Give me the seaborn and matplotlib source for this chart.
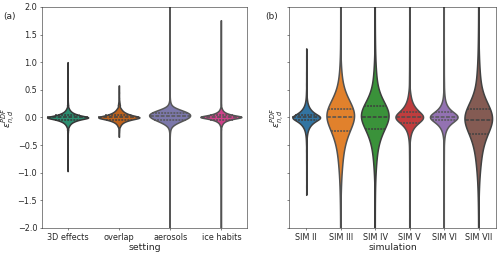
import numpy as np
import pandas as pd
import matplotlib
matplotlib.use("Agg")
import matplotlib.pyplot as plt
import seaborn as sns

# ---------------- data ----------------
settings = ["3D effects", "overlap", "aerosols", "ice habits"]
simulations = ["SIM II", "SIM III", "SIM IV", "SIM V", "SIM VI", "SIM VII"]

# value levels (epsilon) and how many cases fall on each level
levels_a = [-3.0, -2.4, -1.8, -1.4, -0.97, -0.7, -0.5, -0.35, -0.3, -0.26, -0.22,
            -0.18, -0.16, -0.14, -0.12, -0.1, -0.08, -0.06, -0.04, -0.02, 0.0,
            0.02, 0.04, 0.06, 0.08, 0.1, 0.12, 0.14, 0.16, 0.18, 0.22, 0.26, 0.3,
            0.35, 0.45, 0.58, 0.8, 1.0, 1.3, 1.75, 2.4, 3.0]
counts_3d = [0, 0, 0, 0, 1, 1, 1, 1, 1, 2, 4, 4, 5, 8, 11, 16, 23, 34, 48, 70, 100,
             70, 48, 34, 23, 16, 11, 8, 5, 4, 4, 2, 1, 1, 1, 1, 1, 1, 0, 0, 0, 0]
counts_overlap = [0, 0, 0, 0, 0, 0, 0, 1, 1, 2, 3, 3, 5, 7, 10, 15, 22, 33, 48, 70, 100,
                  72, 52, 38, 28, 20, 15, 11, 8, 6, 8, 5, 3, 2, 2, 1, 0, 0, 0, 0, 0, 0]
counts_aerosols = [1, 1, 1, 1, 1, 1, 1, 2, 2, 4, 8, 8, 12, 18, 26, 36, 48, 62, 75, 85, 92,
                   98, 100, 95, 85, 72, 55, 38, 24, 14, 14, 6, 3, 2, 2, 1, 1, 1, 1, 1, 1, 1]
counts_ice = [1, 1, 1, 1, 1, 1, 1, 1, 1, 1, 2, 2, 3, 5, 7, 11, 17, 27, 42, 65, 100,
              65, 42, 27, 17, 11, 7, 5, 3, 2, 2, 1, 1, 1, 1, 1, 1, 1, 1, 1, 0, 0]

levels_b = [-2.6, -2.2, -1.9, -1.6, -1.4, -1.25, -1.1, -1.0, -0.9, -0.8, -0.7, -0.6,
            -0.5, -0.45, -0.4, -0.35, -0.3, -0.25, -0.2, -0.15, -0.1, -0.05, 0.0,
            0.05, 0.1, 0.15, 0.2, 0.25, 0.3, 0.35, 0.4, 0.45, 0.5,
            0.6, 0.7, 0.8, 0.9, 1.0, 1.1, 1.25, 1.4, 1.6, 1.9, 2.2, 2.6]
counts_sim2 = [0, 0, 0, 0, 1, 1, 1, 1, 1, 2, 2, 3,
               2, 3, 4, 6, 10, 16, 27, 45, 74, 120, 200,
               120, 74, 45, 27, 16, 10, 6, 4, 3, 2,
               3, 2, 2, 1, 1, 1, 1, 0, 0, 0, 0, 0]
counts_sim3 = [2, 3, 6, 9, 11, 16, 16, 20, 26, 33, 42, 54,
               35, 40, 45, 51, 58, 65, 74, 84, 95, 108, 165,
               163, 133, 108, 88, 72, 59, 48, 39, 32, 26,
               35, 23, 15, 10, 7, 4, 3, 2, 2, 1, 1, 1]
counts_sim4 = [2, 2, 3, 4, 5, 8, 10, 13, 18, 25, 33, 45,
               31, 36, 41, 48, 56, 65, 76, 88, 103, 119, 170,
               163, 133, 108, 88, 72, 59, 48, 40, 33, 27,
               38, 28, 20, 15, 11, 8, 8, 5, 4, 3, 2, 2]
counts_sim5 = [1, 1, 1, 1, 1, 1, 1, 2, 2, 2, 3, 4,
               3, 4, 6, 10, 15, 23, 35, 54, 84, 129, 185,
               120, 85, 60, 43, 30, 21, 15, 11, 8, 5,
               5, 4, 3, 2, 2, 2, 2, 1, 1, 1, 1, 1]
counts_sim6 = [1, 1, 1, 1, 1, 1, 1, 1, 1, 2, 2, 3,
               2, 3, 5, 8, 12, 20, 32, 51, 81, 127, 200,
               127, 81, 51, 32, 21, 13, 9, 6, 5, 4,
               5, 3, 2, 2, 2, 1, 1, 1, 1, 1, 1, 1]
counts_sim7 = [3, 4, 6, 10, 12, 16, 19, 24, 30, 39, 50, 64,
               41, 46, 52, 59, 66, 75, 85, 96, 108, 200, 164,
               134, 110, 90, 74, 60, 49, 40, 33, 27, 23,
               38, 29, 22, 17, 13, 10, 11, 8, 7, 5, 3, 3]

# ---------------- style ----------------
colors_a = sns.color_palette("Dark2", 4)
colors_b = sns.color_palette("tab10", 6)
bw_a = [0.016, 0.018, 0.04, 0.016]
bw_b = [0.04, 0.19, 0.17, 0.07, 0.06, 0.2]

sns.set_style("ticks")
plt.rcParams["font.family"] = ["DejaVu Sans"]
plt.rcParams["xtick.labelsize"] = 11.7
plt.rcParams["ytick.labelsize"] = 11.7

fig = plt.figure(figsize=(10, 5.14), dpi=50)
ax_a = fig.add_axes([0.084, 0.113, 0.41, 0.86])
ax_b = fig.add_axes([0.578, 0.113, 0.414, 0.86], sharey=ax_a)


def draw(ax, cats, levels, counts_list, colors, bws, xname):
    frames = []
    for cat, counts in zip(cats, counts_list):
        vals = np.repeat(np.asarray(levels, float), counts)
        frames.append(pd.DataFrame({xname: cat, "eps": vals}))
    df = pd.concat(frames, ignore_index=True)
    for cat, col, bw in zip(cats, colors, bws):
        sub = df[df[xname] == cat]
        sd = sub["eps"].std()
        sns.violinplot(data=sub, x=xname, y="eps", order=cats, color=col,
                       inner="quart", cut=0, density_norm="width",
                       bw_method=bw / sd, gridsize=1500, linewidth=2.2, ax=ax)


draw(ax_a, settings, levels_a,
     [counts_3d, counts_overlap, counts_aerosols, counts_ice],
     colors_a, bw_a, "setting")
draw(ax_b, simulations, levels_b,
     [counts_sim2, counts_sim3, counts_sim4, counts_sim5, counts_sim6, counts_sim7],
     colors_b, bw_b, "simulation")

ax_a.set_ylim(-2, 2)
ax_a.set_yticks(np.arange(-2, 2.01, 0.5))
ax_b.tick_params(labelleft=False)
for ax, xl in [(ax_a, "setting"), (ax_b, "simulation")]:
    ax.set_xlabel(xl, fontsize=13.5, labelpad=2)
    ax.set_ylabel(r"$\epsilon^{PDF}_{n,d}$", fontsize=13.5, labelpad=1)
    for s in ax.spines.values():
        s.set_visible(True)

fig.text(0.006, 0.925, "(a)", fontsize=13)
fig.text(0.53, 0.925, "(b)", fontsize=13)

fig.savefig("out.png", dpi=50)
